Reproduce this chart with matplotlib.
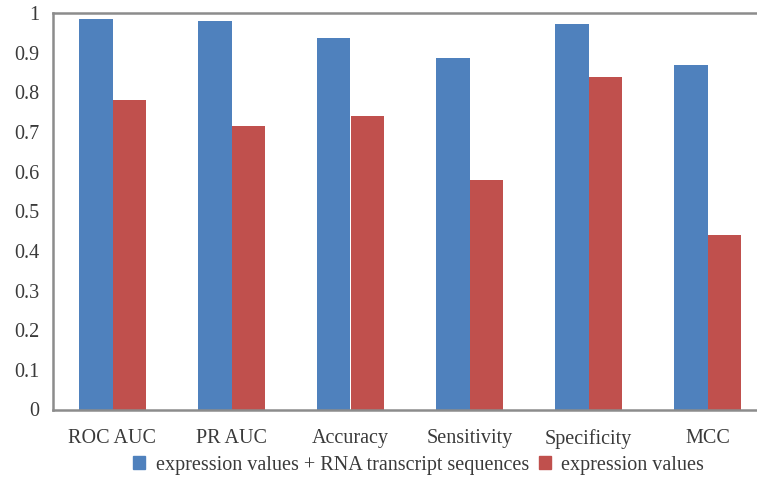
import numpy as np
import matplotlib
matplotlib.use("Agg")
import matplotlib.pyplot as plt
from matplotlib.patches import Patch

plt.rcParams['font.family'] = ['Liberation Serif', 'DejaVu Serif']

metrics = ['ROC AUC', 'PR AUC', 'Accuracy', 'Sensitivity', 'Specificity', 'MCC']
with_seq = [0.984, 0.979, 0.938, 0.886, 0.971, 0.870]
expr_only = [0.781, 0.716, 0.739, 0.580, 0.838, 0.441]
series_names = ['expression values + RNA transcript sequences', 'expression values']

blue = '#4F81BD'
red = '#C0504D'
frame = '#8C8C8C'
text_col = '#3A3A3A'

fig = plt.figure(figsize=(7.57, 4.86), dpi=100)
# the plot box runs past the right edge of the figure
ax = fig.add_axes([53 / 757, 1 - 409.5 / 486, 714 / 757, 396.5 / 486])

x = np.arange(len(metrics))
w = 0.28
ax.bar(x - w / 2, with_seq, w, color=blue)
ax.bar(x + w / 2, expr_only, w, color=red)

ax.set_xlim(-0.5, len(metrics) - 0.5)
ax.set_ylim(0, 1)
ax.set_yticks(np.arange(0, 1.01, 0.1))
ax.set_yticklabels(['0', '0.1', '0.2', '0.3', '0.4', '0.5', '0.6', '0.7', '0.8', '0.9', '1'])
ax.set_xticks(x)
ax.set_xticklabels(metrics)
ax.tick_params(length=0, labelsize=14.5, colors=text_col)
ax.tick_params(axis='y', pad=10)
ax.tick_params(axis='x', pad=14)

for side in ['left', 'bottom', 'top']:
    ax.spines[side].set_color(frame)
    ax.spines[side].set_linewidth(1.8)
ax.spines['right'].set_visible(False)

handles = [Patch(color=blue), Patch(color=red)]
fig.legend(handles, series_names, loc='center', bbox_to_anchor=(0.553, 1 - 465 / 486),
           ncol=2, frameon=False, fontsize=14.5, handlelength=0.6, handleheight=0.6,
           handletextpad=0.5, columnspacing=0.5, labelcolor=text_col)

fig.savefig('out.png', dpi=100)
